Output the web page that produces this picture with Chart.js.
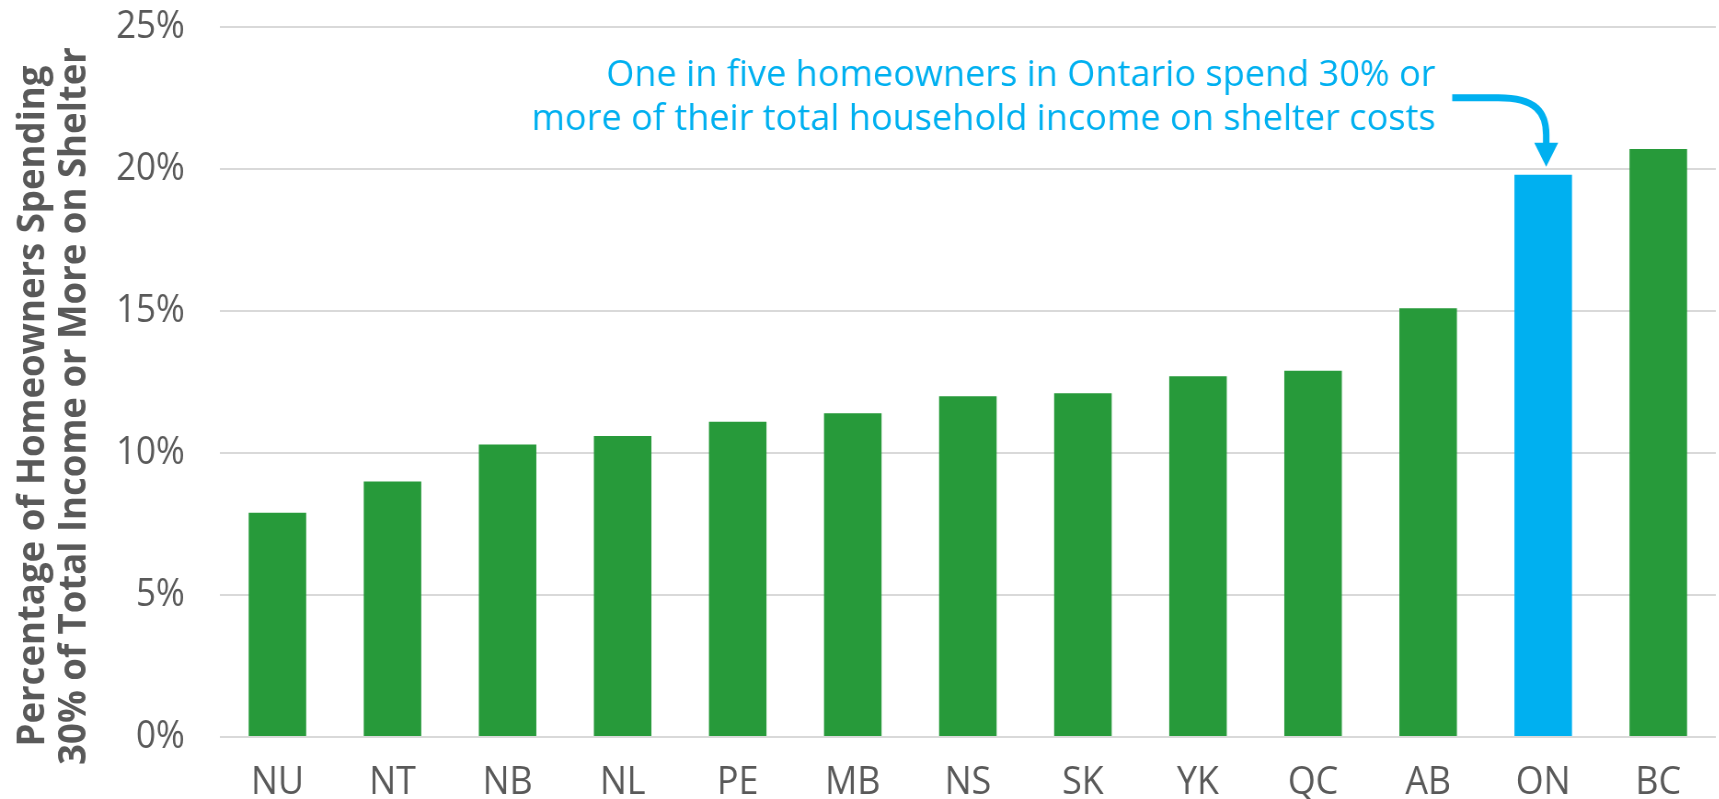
<!DOCTYPE html>
<html>
<head>
<meta charset="utf-8">
<script src="https://cdn.jsdelivr.net/npm/chart.js@4.4.1/dist/chart.umd.min.js"></script>
<style>
  html, body { margin: 0; padding: 0; background: #fff; overflow: hidden; }
  #wrap { width: 1868px; height: 799px; transform: scaleX(0.92); transform-origin: 0 0; }
</style>
</head>
<body>
<div id="wrap"><canvas id="myChart" width="1868" height="799"></canvas></div>
<script>
// dati: quota di proprietari che spendono 30%+ del reddito per l'alloggio
const provinces = ['NU', 'NT', 'NB', 'NL', 'PE', 'MB', 'NS', 'SK', 'YK', 'QC', 'AB', 'ON', 'BC'];
const shares = [7.9, 9.0, 10.3, 10.6, 11.1, 11.4, 12.0, 12.1, 12.7, 12.9, 15.1, 19.8, 20.7];
const yTicks = [0, 5, 10, 15, 20, 25];
const highlight = 'ON';
const titleLines = ['Percentage of Homeowners Spending', '30% of Total Income or More on Shelter'];
const noteLines = ['One in five homeowners in Ontario spend 30% or', 'more of their total household income on shelter costs'];

const K = 0.92;           // compressione orizzontale del wrapper
const GREEN = '#279A3A';
const BLUE = '#00B0F0';
const GREY = '#595959';

const colors = provinces.map(p => p === highlight ? BLUE : GREEN);

// titolo asse y (condensato) + nota con freccia su ON
const extras = {
  id: 'extras',
  afterDraw: (chart) => {
    const { ctx, chartArea } = chart;
    ctx.save();
    const cy = (chartArea.top + chartArea.bottom) / 2 + 24;
    const xs = [36, 81.5];
    ctx.fillStyle = GREY;
    ctx.font = 'bold 42px "Open Sans"';
    ctx.textAlign = 'center';
    ctx.textBaseline = 'middle';
    titleLines.forEach((t, i) => {
      ctx.save();
      ctx.translate(xs[i], cy);
      ctx.rotate(-Math.PI / 2);
      ctx.scale(0.87, 1);
      ctx.fillText(t, 0, 0);
      ctx.restore();
    });

    // nota
    const bar = chart.getDatasetMeta(0).data[provinces.indexOf(highlight)];
    const bx = bar.x, by = bar.y;
    ctx.fillStyle = BLUE;
    ctx.font = '36px "Open Sans"';
    ctx.textAlign = 'right';
    ctx.textBaseline = 'alphabetic';
    noteLines.forEach((t, i) => {
      ctx.save();
      ctx.translate(bx - 117, by - 89 + i * 44);
      ctx.scale(1.09, 1);
      ctx.fillText(t, 0, 0);
      ctx.restore();
    });

    // freccia
    const ax = bx + 3 / K;
    ctx.strokeStyle = BLUE;
    ctx.lineWidth = 7;
    ctx.beginPath();
    ctx.moveTo(bx - 91 / K, by - 77);
    ctx.lineTo(bx - 45 / K, by - 77);
    ctx.bezierCurveTo(ax - 10 / K, by - 77, ax, by - 62, ax, by - 40);
    ctx.lineTo(ax, by - 30);
    ctx.stroke();
    ctx.beginPath();
    ctx.moveTo(ax - 12 / K, by - 32);
    ctx.lineTo(ax + 12 / K, by - 32);
    ctx.lineTo(ax, by - 8);
    ctx.closePath();
    ctx.fill();
    ctx.restore();
  }
};

const ctx = document.getElementById('myChart');

new Chart(ctx, {
  type: 'bar',
  data: {
    labels: provinces,
    datasets: [{
      data: shares,
      backgroundColor: colors,
      borderWidth: 0,
      categoryPercentage: 1,
      barPercentage: 0.5
    }]
  },
  options: {
    responsive: false,
    devicePixelRatio: 1,
    animation: false,
    layout: { padding: { left: 126, right: 3, top: 27, bottom: 0 } },
    plugins: { legend: { display: false }, tooltip: { enabled: false } },
    scales: {
      x: {
        grid: { display: false, drawTicks: false },
        border: { display: false },
        ticks: { color: GREY, font: { family: 'Open Sans', size: 39, lineHeight: 1 }, padding: 26 },
        afterFit: (scale) => { scale.height = 62; }
      },
      y: {
        min: 0,
        max: 25,
        afterBuildTicks: (scale) => { scale.ticks = yTicks.map(v => ({ value: v })); },
        grid: { color: '#D9D9D9', lineWidth: 2, drawTicks: false },
        border: { display: false },
        ticks: {
          color: GREY,
          font: { family: 'Open Sans', size: 38 },
          padding: 38,
          callback: (v) => v + '%'
        },
        afterFit: (scale) => {
          scale.width = 113;
          scale.paddingTop = 0;
          scale.paddingBottom = 0;
        }
      }
    }
  },
  plugins: [extras]
});
</script>
</body>
</html>
